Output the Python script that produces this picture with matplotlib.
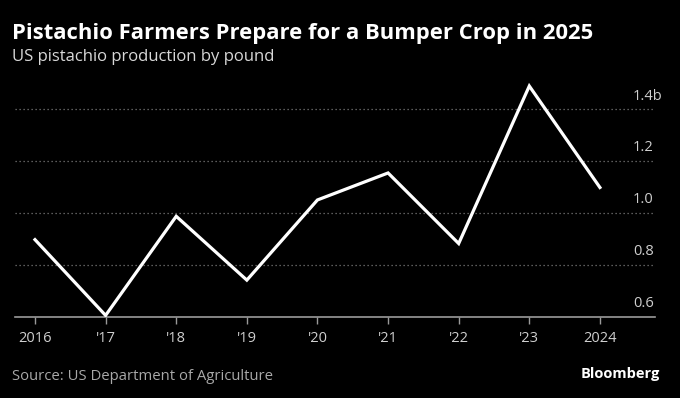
import matplotlib
matplotlib.use("Agg")
import matplotlib.pyplot as plt

years = [2016, 2017, 2018, 2019, 2020, 2021, 2022, 2023, 2024]
production_b = [0.897, 0.605, 0.987, 0.741, 1.05, 1.154, 0.882, 1.489, 1.098]
xtick_labels = ["2016", "'17", "'18", "'19", "'20", "'21", "'22", "'23", "2024"]
ytick_values = [0.6, 0.8, 1.0, 1.2, 1.4]
ytick_labels = ["0.6", "0.8", "1.0", "1.2", "1.4b"]

title = "Pistachio Farmers Prepare for a Bumper Crop in 2025"
subtitle = "US pistachio production by pound"
source = "Source: US Department of Agriculture"

plt.rcParams['font.family'] = ['Open Sans', 'DejaVu Sans']

fig = plt.figure(figsize=(6.8, 3.98), dpi=100, facecolor='black')
ax = fig.add_axes([15/680, (398-316.7)/398, 640/680, (316.7-78)/398])
ax.set_facecolor('black')

ax.plot(years, production_b, color='white', lw=2.3, solid_joinstyle='miter', zorder=3)

ax.set_xlim(2015.717, 2024.78)
ax.set_ylim(0.6, 1.52)

for v in ytick_values[1:]:
    ax.axhline(v, color='#7a7a7a', lw=0.9, ls=(0, (1, 2.2)), zorder=1)
for v, lab in zip(ytick_values, ytick_labels):
    ax.annotate(lab, xy=(618/640, v), xycoords=('axes fraction', 'data'),
                xytext=(0, 4), textcoords='offset points',
                ha='left', va='bottom', color='#cfcfcf', fontsize=10.5)

ax.set_yticks([])
for s in ['top', 'right', 'left']:
    ax.spines[s].set_visible(False)
ax.spines['bottom'].set_color('#9a9a9a')
ax.spines['bottom'].set_linewidth(1.2)

ax.set_xticks(years)
ax.set_xticklabels(xtick_labels)
ax.tick_params(axis='x', colors='#9a9a9a', length=5, width=1, direction='out',
               labelcolor='#cfcfcf', labelsize=10.5, pad=5)

fig.text(12/680, 1 - 34/398, title, color='white', fontsize=15.8, fontweight='bold',
         ha='left', va='center')
fig.text(12/680, 1 - 57/398, subtitle, color='#d8d8d8', fontsize=12,
         ha='left', va='center')
fig.text(12/680, 1 - 376/398, source, color='#a8a8a8', fontsize=10.7,
         ha='left', va='center')
fig.text(660/680, 1 - 374/398, "Bloomberg", color='white', fontsize=10.5,
         fontweight='bold', ha='right', va='center')

fig.savefig('out.png', dpi=100, facecolor='black')
